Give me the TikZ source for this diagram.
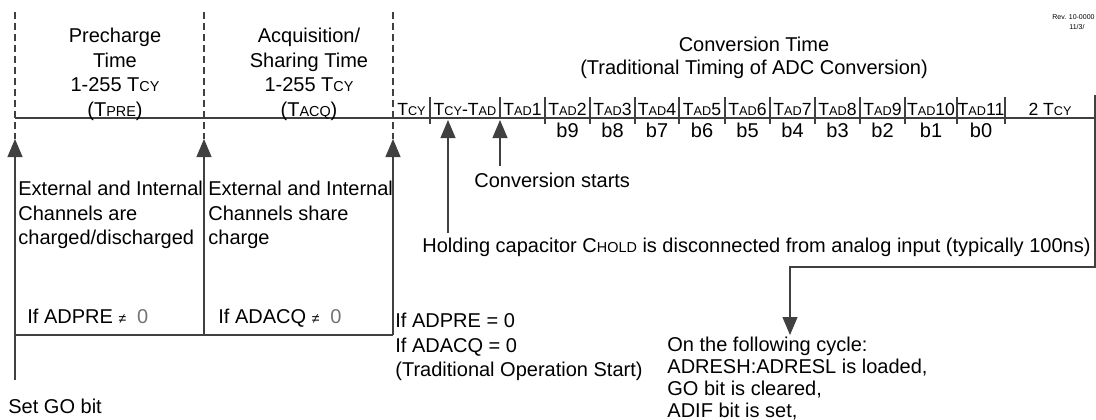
\documentclass[tikz,border=0pt]{standalone}
\usepackage{fontspec}
\setmainfont{Liberation Sans}
\usetikzlibrary{arrows.meta}
\makeatletter
\newcommand{\smc}[1]{{\fontsize{\fpeval{0.72*\f@size}}{\f@baselineskip}\selectfont #1}}
\makeatother
\newcommand{\nzero}{{\fontsize{7}{8}\selectfont ≠}\hspace{0.55em}{\color{black!55}0}}
\tikzset{
  wire/.style={draw=black!75, line width=0.55pt},
  dashln/.style={wire, dash pattern=on 3.5pt off 2pt},
  upar/.style={wire, -{Triangle[length=9pt, width=7.5pt]}},
  txt/.style={inner sep=0pt, align=left, anchor=north west,
    font=\fontsize{10}{12.25}\selectfont},
  ctxt/.style={txt, align=center, anchor=north},
  lbl/.style={inner sep=0pt, anchor=base, font=\fontsize{8.8}{10}\selectfont},
  bitlbl/.style={lbl, font=\fontsize{10}{11}\selectfont}}
\begin{document}
\begin{tikzpicture}[x=0.5pt, y=-0.5pt]
  \useasboundingbox (0,0) rectangle (1096,419);
  % time line
  \coordinate (t0) at (15,118);
  \coordinate (tE) at (1095,118);
  \draw[wire] (t0) -- (tE);
  \foreach \x/\lo in {430/124,500/118,545/124,590/124,635/124,679/124,725/124,
      770/124,815/124,860/124,905/124,957/124,1005/124}
    \draw[wire] (\x,97) -- (\x,\lo);
  % phase borders
  \foreach \x/\n in {15/0,204/1,393/2} {
    \coordinate (top\n) at (\x,12);
    \coordinate (tip\n) at (\x,139);
    \draw[dashln] (top\n) -- (tip\n);
  }
  \coordinate (go) at (15,380);
  \coordinate (bot1) at (204,335);
  \coordinate (bot2) at (393,335);
  \draw[upar] (go) -- (tip0);
  \draw[upar] (bot1) -- (tip1);
  \draw[upar] (bot2) -- (tip2);
  \draw[wire] (go |- bot1) -- (bot2);
  % slot labels
  \node[lbl] (tcy) at (411.5,115.5) {T\smc{CY}};
  \node[lbl] (tcyad) at (465,115.5) {T\smc{CY}-T\smc{AD}};
  \node[lbl] (tad1) at (522.5,115.5) {T\smc{AD}1};
  \foreach \a/\b/\n in {545/590/2,590/635/3,635/679/4,679/725/5,725/770/6,
      770/815/7,815/860/8,860/905/9,905/957/10,957/1005/11} {
    \pgfmathtruncatemacro\bit{11-\n}
    \node[lbl] (tad\n) at ({(\a+\b)/2},115.5) {T\smc{AD}\n};
    \node[bitlbl] (bit\bit) at ({(\a+\b)/2},137) {b\bit};
  }
  \node[lbl] (twocy) at (1050,115.5) {2 T\smc{CY}};
  % headings
  \node[ctxt] (pre) at (115,28) {Precharge\\Time\\1-255 T\smc{CY}\\(T\smc{PRE})};
  \node[ctxt] (acq) at (309,28) {Acquisition/\\Sharing Time\\1-255 T\smc{CY}\\(T\smc{ACQ})};
  \node[ctxt, font=\fontsize{10}{11.75}\selectfont] (conv) at (754,36.5)
    {Conversion Time\\(Traditional Timing of ADC Conversion)};
  \node[anchor=west, inner sep=0pt, font=\fontsize{3.5}{4.5}\selectfont] (rev1) at (1052,17) {Rev. 10-0000};
  \node[anchor=west, inner sep=0pt, font=\fontsize{3.5}{4.5}\selectfont] (rev2) at (1069,27) {11/3/};
  % notes
  \node[txt] (ext1) at (18,181) {External and Internal\\Channels are\\charged/discharged};
  \node[txt] (ext2) at (208,181) {External and Internal\\Channels share\\charge};
  \node[txt] (ifpre) at (27,309) {If ADPRE \nzero};
  \node[txt] (ifacq) at (218,309) {If ADACQ \nzero};
  \node[txt] (trad) at (395,313) {If ADPRE = 0\\If ADACQ = 0\\(Traditional Operation Start)};
  \node[txt] (setgo) at (8,399) {Set GO bit};
  \node[txt] (cstart) at (474,173) {Conversion starts};
  \node[txt] (hold) at (422,238)
    {Holding capacitor C\smc{HOLD} is disconnected from analog input (typically 100ns)};
  \node[txt, font=\fontsize{10}{11}\selectfont] (follow) at (667,337)
    {On the following cycle:\\ADRESH:ADRESL is loaded,\\GO bit is cleared,\\ADIF bit is set,};
  % conversion arrows
  \coordinate (holdtip) at (448,120);
  \coordinate (cstip) at (500,120);
  \draw[upar] (hold.north -| holdtip) ++(0,-5) -- (holdtip);
  \draw[upar] (500,166) -- (cstip);
  \coordinate (rtop) at (1095,95);
  \coordinate (rbend) at (1095,267);
  \coordinate (ftip) at (790,335);
  \draw[upar] (rtop) -- (rbend) -| (ftip);
\end{tikzpicture}
\end{document}
